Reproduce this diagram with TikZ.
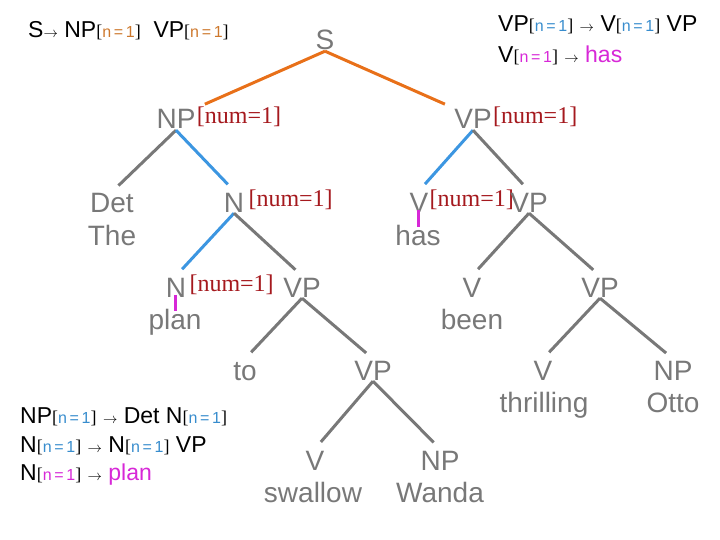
\documentclass[tikz,border=0pt]{standalone}
\usepackage{fontspec}
\setmainfont{Liberation Serif}
\setsansfont{Liberation Sans}
\usetikzlibrary{positioning}
\definecolor{treeGray}{RGB}{120,120,120}
\definecolor{featRed}{RGB}{165,25,30}
\definecolor{rootOrange}{RGB}{232,112,25}
\definecolor{numBlue}{RGB}{60,150,225}
\definecolor{leafMagenta}{RGB}{215,40,215}
\definecolor{ruleOrange}{RGB}{205,120,45}
\definecolor{ruleBlue}{RGB}{55,140,205}
\newcommand{\nval}[1]{{\fontsize{18}{18}\selectfont\rmfamily[\textcolor{#1}{\sffamily\fontsize{16}{16}\selectfont n\,=\,1}]}}
\newcommand{\rarr}{{\fontsize{15}{15}\selectfont$\rightarrow$}}
\newcommand{\numone}{[num=1]}
\tikzset{
  cat/.style={font=\sffamily\fontsize{28}{28}\selectfont, text=treeGray, inner sep=1pt, text height=20pt, text depth=0pt},
  feat/.style={font=\rmfamily\fontsize{24}{24}\selectfont, text=featRed, inner sep=0pt, yshift=2pt},
  rule/.style={font=\sffamily\fontsize{23}{23}\selectfont, anchor=base west, inner sep=0pt},
  branch/.style={draw=treeGray, line width=3pt, shorten >=9pt},
  rootbranch/.style={branch, draw=rootOrange},
  headbranch/.style={branch, draw=numBlue},
  lexbranch/.style={draw=leafMagenta, line width=3pt, shorten <=-3pt, shorten >=-3pt}
}
\begin{document}
\begin{tikzpicture}[x=1pt, y=-1pt]
  \useasboundingbox (0,0) rectangle (720,540);
  % grammar rules
  \node[rule] (ruleS) at (28,38) {S\rarr{} NP\nval{ruleOrange}\ \ VP\nval{ruleOrange}};
  \node[rule] (ruleVP) at (498,32) {VP\nval{ruleBlue} \rarr{} V\nval{ruleBlue} VP};
  \node[rule] (ruleV) at (498,63) {V\nval{leafMagenta} \rarr{} \textcolor{leafMagenta}{has}};
  \node[rule] (ruleNP) at (20,423) {NP\nval{ruleBlue} \rarr{} Det N\nval{ruleBlue}};
  \node[rule] (ruleN) at (20,452) {N\nval{ruleBlue} \rarr{} N\nval{ruleBlue} VP};
  \node[rule] (ruleNlex) at (20,480) {N\nval{leafMagenta} \rarr{} \textcolor{leafMagenta}{plan}};
  % tree nodes
  \node[cat] (S) at (325,40) {S};
  \node[cat] (NP) at (176,119) {NP};
  \node[feat, right=0pt of NP] (NPf) {\numone};
  \node[cat] (VPa) at (473,119) {VP};
  \node[feat, right=0pt of VPa] (VPaf) {\numone};
  \node[cat] (Det) at (112,203) {Det};
  \node[cat] (The) at (112,235) {The};
  \node[cat] (Na) at (234,202) {N};
  \node[feat, right=3pt of Na] (Naf) {\numone};
  \node[cat] (Va) at (419,202) {V};
  \node[feat, right=0pt of Va] (Vaf) {\numone};
  \node[cat] (has) at (418,235) {has};
  \node[cat] (VPb) at (529,202) {VP};
  \node[cat] (Nb) at (176,287) {N};
  \node[feat, right=2pt of Nb] (Nbf) {\numone};
  \node[cat] (plan) at (175,319) {plan};
  \node[cat] (VPc) at (302,287) {VP};
  \node[cat] (Vb) at (472,287) {V};
  \node[cat] (been) at (472,319) {been};
  \node[cat] (VPd) at (600,287) {VP};
  \node[cat] (to) at (245,370) {to};
  \node[cat] (VPe) at (373,370) {VP};
  \node[cat] (Vc) at (543,370) {V};
  \node[cat] (thrilling) at (544,402) {thrilling};
  \node[cat] (NPb) at (673,370) {NP};
  \node[cat] (Otto) at (673,402) {Otto};
  \node[cat] (Vd) at (315,460) {V};
  \node[cat] (swallow) at (313,492) {swallow};
  \node[cat] (NPc) at (440,460) {NP};
  \node[cat] (Wanda) at (440,492) {Wanda};
  % branches
  \draw[rootbranch] (S.south) -- (NP.north east);
  \draw[rootbranch] (S.south) -- (VPa.north west);
  \draw[branch] (NP.south) -- (Det.north);
  \draw[headbranch] (NP.south) -- (Na.north);
  \draw[headbranch] (VPa.south) -- (Va.north);
  \draw[branch] (VPa.south) -- (VPb.north);
  \draw[lexbranch] (has.north |- Va.south) -- (has.north);
  \draw[headbranch] (Na.south) -- (Nb.north);
  \draw[branch] (Na.south) -- (VPc.north);
  \draw[lexbranch] (plan.north |- Nb.south) -- (plan.north);
  \draw[branch] (VPb.south) -- (Vb.north);
  \draw[branch] (VPb.south) -- (VPd.north);
  \draw[branch] (VPc.south) -- (to.north);
  \draw[branch] (VPc.south) -- (VPe.north);
  \draw[branch] (VPd.south) -- (Vc.north);
  \draw[branch] (VPd.south) -- (NPb.north);
  \draw[branch] (VPe.south) -- (Vd.north);
  \draw[branch] (VPe.south) -- (NPc.north);
\end{tikzpicture}
\end{document}
